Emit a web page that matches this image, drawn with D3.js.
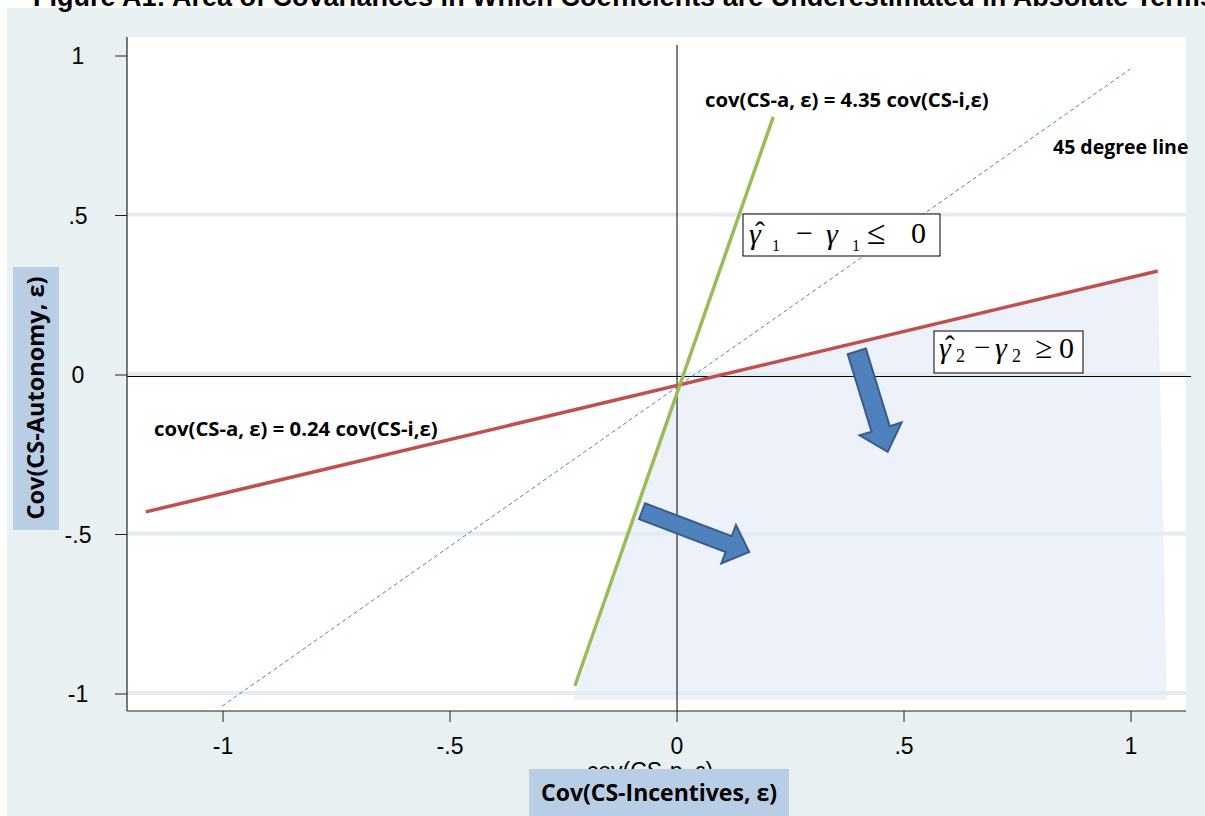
<!DOCTYPE html>
<html><head><meta charset="utf-8">
<script src="https://cdn.jsdelivr.net/npm/d3@7"></script>
<style>html,body{margin:0;padding:0;background:#fff;overflow:hidden}</style>
</head><body>
<script>
// ---- data ----
const xTicks = [-1, -0.5, 0, 0.5, 1];
const xTickLabels = ["-1", "-.5", "0", ".5", "1"];
const yTicks = [1, 0.5, 0, -0.5, -1];
const yTickLabels = ["1", ".5", "0", "-.5", "-1"];
const gridValues = [0.5, 0, -0.5, -1];

const greenLineX = [-0.225, 0.212];
const greenLineY = [-0.975, 0.809];
const redLineX = [-1.170, 1.059];
const redLineY = [-0.429, 0.326];
const diagLineX = [-1.002, 0.998];
const diagLineY = [-1.038, 0.959];

const regionX = [-0.229, 0.006, 1.059, 1.079];
const regionY = [-1.019, -0.031, 0.326, -1.019];

const titleText = "Figure A1: Area of Covariances in Which Coefficients are Underestimated in Absolute Terms";
const yTitle = "Cov(CS-Autonomy, ε)";
const xTitle = "Cov(CS-Incentives, ε)";
const xTitleHidden = "cov(CS-p, ε)";
const greenLabel = "cov(CS-a, ε) = 4.35 cov(CS-i,ε)";
const redLabel = "cov(CS-a, ε) = 0.24 cov(CS-i,ε)";
const diagLabel = "45 degree line";

// arrows: tail point, tip point (data units)
const arrowTailX = [0.396, -0.077];
const arrowTailY = [0.074, -0.427];
const arrowTipX = [0.464, 0.159];
const arrowTipY = [-0.241, -0.555];

// ---- layout ----
const W = 1205, H = 816;
const svg = d3.select("body").append("svg").attr("width", W).attr("height", H);
const x = d3.scaleLinear().domain([-1.2115, 1.1211]).range([127, 1186]);
const y = d3.scaleLinear().domain([1.0596, -1.0533]).range([37, 711]);

svg.append("rect").attr("x", 0).attr("y", 0).attr("width", W).attr("height", H).attr("fill", "#ffffff");
svg.append("rect").attr("x", 7).attr("y", 8).attr("width", W - 7).attr("height", H - 8).attr("fill", "#e8f0f2");
svg.append("rect").attr("x", x.range()[0]).attr("y", y.range()[0])
  .attr("width", x.range()[1] - x.range()[0]).attr("height", y.range()[1] - y.range()[0]).attr("fill", "#ffffff");

// title (cut off at top, as in the reference)
svg.append("text").attr("x", 33).attr("y", 6).text(titleText)
  .attr("font-family", "Liberation Sans, Arial, sans-serif").attr("font-weight", "bold").attr("font-size", 27).attr("fill", "#000");

// shaded region
svg.append("path")
  .attr("d", d3.line()(regionX.map((v, i) => [x(v), y(regionY[i])])) + "Z")
  .attr("fill", "#dfe8f6").attr("fill-opacity", 0.55);

// gridlines
svg.selectAll(".grid").data(gridValues).join("line")
  .attr("x1", x.range()[0]).attr("x2", x.range()[1])
  .attr("y1", d => y(d) - 1).attr("y2", d => y(d) - 1)
  .attr("stroke", "#e3ecef").attr("stroke-width", 4);

// zero lines
svg.append("line").attr("x1", x(0)).attr("x2", x(0)).attr("y1", 45).attr("y2", y.range()[1])
  .attr("stroke", "#000").attr("stroke-width", 1);
svg.append("line").attr("x1", x.range()[0]).attr("x2", 1191).attr("y1", y(0) + 1.5).attr("y2", y(0) + 1.5)
  .attr("stroke", "#000").attr("stroke-width", 1);

// lines
const lineGen = d3.line().x(d => x(d[0])).y(d => y(d[1]));
svg.append("path").datum(diagLineX.map((v, i) => [v, diagLineY[i]])).attr("d", lineGen)
  .attr("stroke", "#4f81bd").attr("stroke-width", 1).attr("stroke-dasharray", "4,3").attr("fill", "none");
svg.append("path").datum(redLineX.map((v, i) => [v, redLineY[i]])).attr("d", lineGen)
  .attr("stroke", "#c0504d").attr("stroke-width", 3.5).attr("fill", "none");
svg.append("path").datum(greenLineX.map((v, i) => [v, greenLineY[i]])).attr("d", lineGen)
  .attr("stroke", "#9bbb59").attr("stroke-width", 3.5).attr("fill", "none");

// arrows
function arrowPath(tx, ty, hx, hy, bodyW, headW, headL) {
  const dx = hx - tx, dy = hy - ty, L = Math.hypot(dx, dy);
  const ux = dx / L, uy = dy / L, px = -uy, py = ux;
  const bx = hx - ux * headL, by = hy - uy * headL;
  const p = [
    [tx + px * bodyW / 2, ty + py * bodyW / 2],
    [bx + px * bodyW / 2, by + py * bodyW / 2],
    [bx + px * headW / 2, by + py * headW / 2],
    [hx, hy],
    [bx - px * headW / 2, by - py * headW / 2],
    [bx - px * bodyW / 2, by - py * bodyW / 2],
    [tx - px * bodyW / 2, ty - py * bodyW / 2]
  ];
  return d3.line()(p) + "Z";
}
const arrowBody = [19, 17];
const arrowHead = [44, 41];
const arrowHeadLen = [24, 22];
arrowTailX.forEach((v, i) => {
  svg.append("path")
    .attr("d", arrowPath(x(v), y(arrowTailY[i]), x(arrowTipX[i]), y(arrowTipY[i]), arrowBody[i], arrowHead[i], arrowHeadLen[i]))
    .attr("fill", "#4f81bd").attr("stroke", "#385d8a").attr("stroke-width", 2).attr("stroke-linejoin", "miter");
});

// axes frame
svg.append("line").attr("x1", x.range()[0]).attr("x2", x.range()[0]).attr("y1", y.range()[0]).attr("y2", y.range()[1])
  .attr("stroke", "#222").attr("stroke-width", 1.2);
svg.append("line").attr("x1", x.range()[0]).attr("x2", x.range()[1]).attr("y1", y.range()[1]).attr("y2", y.range()[1])
  .attr("stroke", "#222").attr("stroke-width", 1.2);

// ticks
svg.selectAll(".yt").data(yTicks).join("line")
  .attr("x1", x.range()[0] - 12).attr("x2", x.range()[0]).attr("y1", d => y(d)).attr("y2", d => y(d))
  .attr("stroke", "#222").attr("stroke-width", 1);
svg.selectAll(".xt").data(xTicks).join("line")
  .attr("x1", d => x(d)).attr("x2", d => x(d)).attr("y1", y.range()[1]).attr("y2", y.range()[1] + 11)
  .attr("stroke", "#222").attr("stroke-width", 1);
const tickFont = "Liberation Sans, Arial, sans-serif";
svg.selectAll(".ytl").data(yTicks).join("text")
  .attr("x", 78).attr("y", d => y(d) + 8).attr("text-anchor", "middle")
  .attr("font-family", tickFont).attr("font-size", 23).attr("fill", "#000")
  .text((d, i) => yTickLabels[i]);
svg.selectAll(".xtl").data(xTicks).join("text")
  .attr("x", d => x(d)).attr("y", 754).attr("text-anchor", "middle")
  .attr("font-family", tickFont).attr("font-size", 23).attr("fill", "#000")
  .text((d, i) => xTickLabels[i]);

// original x title, mostly hidden behind the label box (as in the reference)
svg.append("text").attr("x", 650).attr("y", 779).attr("text-anchor", "middle")
  .attr("font-family", tickFont).attr("font-size", 23).attr("fill", "#000").text(xTitleHidden);

// axis title boxes
const boldFont = "Open Sans, Lato, sans-serif";
svg.append("rect").attr("x", 13).attr("y", 267).attr("width", 46).attr("height", 263).attr("fill", "#b9cde5");
svg.append("text").attr("transform", "translate(44,398) rotate(-90)").attr("text-anchor", "middle")
  .attr("font-family", boldFont).attr("font-weight", "bold").attr("font-size", 23.5).attr("fill", "#000").text(yTitle);
svg.append("rect").attr("x", 529).attr("y", 769).attr("width", 260).attr("height", 47).attr("fill", "#b9cde5");
svg.append("text").attr("x", 659).attr("y", 801).attr("text-anchor", "middle")
  .attr("font-family", boldFont).attr("font-weight", "bold").attr("font-size", 23).attr("fill", "#000").text(xTitle);

// line labels
function label(txt, px, py, fs) {
  svg.append("text").attr("x", px).attr("y", py)
    .attr("font-family", boldFont).attr("font-weight", "bold").attr("font-size", fs).attr("fill", "#000").text(txt);
}
label(greenLabel, 705, 107, 20.3);
label(diagLabel, 1053, 154, 19.5);
label(redLabel, 154, 436, 20.3);

// gamma boxes: one text per box, pieces placed with tspans
const serif = "Liberation Serif, Times New Roman, serif";
function box(bx, by, bw, bh) {
  svg.append("rect").attr("x", bx).attr("y", by).attr("width", bw).attr("height", bh)
    .attr("fill", "#fff").attr("stroke", "#000").attr("stroke-width", 1);
}
function formula(parts) {
  const t = svg.append("text").attr("font-family", serif).attr("fill", "#000");
  parts.forEach(p => {
    t.append("tspan").attr("x", p[1]).attr("y", p[2]).attr("font-size", p[3])
      .attr("font-style", p[4] ? "italic" : "normal").text(p[0]);
  });
}
box(743, 214, 197, 42);
formula([
  ["γ", 749, 244, 30, true], ["ˆ", 755, 242, 30, false], ["1", 772, 251, 16, false],
  ["−", 796, 243, 30, false], ["γ", 826, 244, 30, true], ["1", 852, 251, 16, false],
  ["≤", 867, 244, 34, false], ["0", 911, 243, 30, false]
]);
box(934, 331, 149, 42);
formula([
  ["γ", 939, 358, 30, true], ["ˆ", 945, 356, 29, false], ["2", 956, 362, 18, false],
  ["−", 974, 357, 29, false], ["γ", 995, 358, 30, true], ["2", 1012, 362, 18, false],
  ["≥", 1035, 358, 31, false], ["0", 1059, 358, 30, false]
]);
</script>
</body></html>
